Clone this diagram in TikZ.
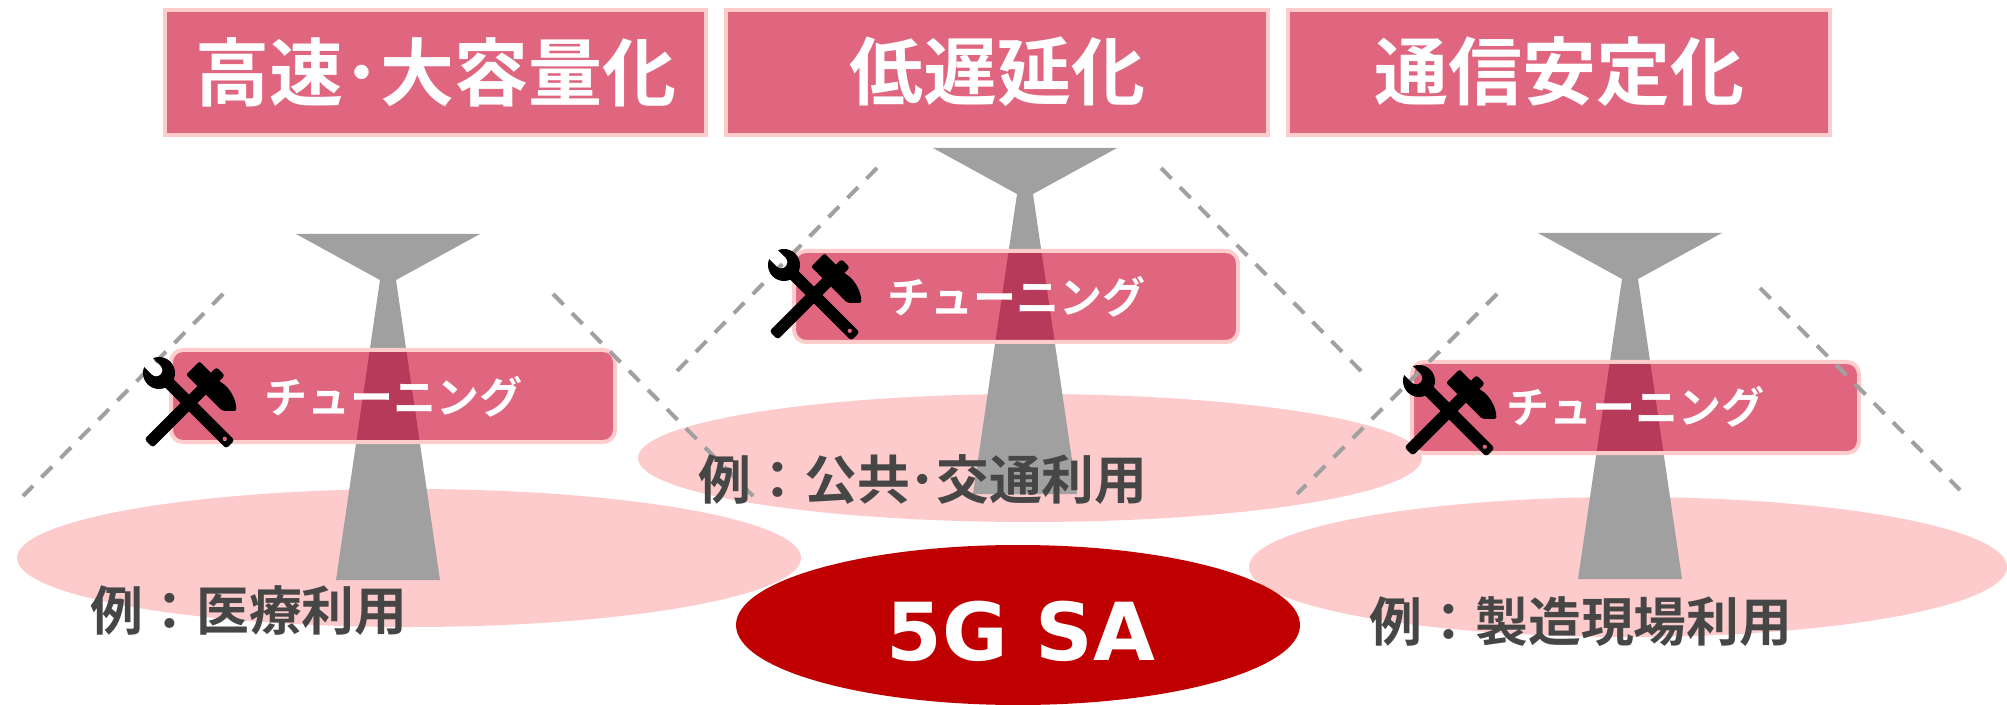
\documentclass[tikz,border=0pt]{standalone}
\usepackage{fontspec}
\newfontfamily\jpfont{Noto Sans CJK JP}[BoldFont={Noto Sans CJK JP Bold}]
\newfontfamily\latinbold{DejaVu Sans Bold}
\definecolor{boxpink}{HTML}{E06680}
\definecolor{edgepink}{HTML}{FFCCCC}
\definecolor{areapink}{HTML}{FDCBCB}
\definecolor{mastgray}{HTML}{A0A0A0}
\definecolor{mastdark}{HTML}{B83A5A}
\definecolor{corered}{HTML}{C00000}
\definecolor{labelgray}{HTML}{464646}
\definecolor{beamgray}{HTML}{A0A0A0}

% antenna mast: centre x, top edge y, neck y, foot y
\newcommand\mastpath[4]{(#1-92,#2) -- (#1+92,#2) -- (#1+8,#3) -- (#1+52,#4) -- (#1-52,#4) -- (#1-8,#3) -- cycle}

% crossed wrench and hammer, top-left corner given
\newcommand\toolicon[1]{%
  \begin{scope}[shift={#1}]
    \begin{scope}[shift={(65,27)}, rotate=45]
      \fill[black, rounded corners=1.5pt] (-84,-6) rectangle (18,6);
      \fill[black, rounded corners=1pt] (-9,-22) -- (10,-22) -- (10,6)
        .. controls (13,18) and (9,31) .. (1,39) -- (-9,29) -- cycle;
    \end{scope}
    \begin{scope}[shift={(16,16)}, rotate=-45]
      \fill[black] (157:16) arc[start angle=157, end angle=-157, radius=16]
        -- (-4,-6.2) arc[start angle=-90, end angle=90, radius=6.2] -- cycle;
      \fill[black, even odd rule, rounded corners=1.5pt] (6,-6) rectangle (101,6)
        (93,0) circle[radius=2.3];
    \end{scope}
  \end{scope}}

% tuning plate: corners and the mast behind it
\newcommand\tuneplate[8]{%
  \fill[boxpink, rounded corners=6pt] (#1,#2) rectangle (#3,#4);
  \begin{scope}
    \clip[rounded corners=6pt] (#1,#2) rectangle (#3,#4);
    \fill[mastdark] \mastpath{#5}{#6}{#7}{#8};
  \end{scope}
  \draw[edgepink, line width=2pt, rounded corners=6pt] (#1,#2) rectangle (#3,#4);}

\begin{document}
\begin{tikzpicture}[x=0.5pt, y=-0.5pt,
  headbox/.style={fill=boxpink, draw=edgepink, line width=2pt},
  headtext/.style={text=white, inner sep=0pt, font=\jpfont\bfseries\fontsize{37}{40}\selectfont},
  tunetext/.style={text=white, inner sep=0pt, font=\jpfont\bfseries\fontsize{21.5}{24}\selectfont},
  usetext/.style={text=labelgray, inner sep=0pt, font=\jpfont\bfseries\fontsize{26.4}{30}\selectfont},
  coretext/.style={text=white, inner sep=0pt, font=\latinbold\fontsize{40}{44}\selectfont},
  beam/.style={beamgray, line width=2pt, dash pattern=on 7.5pt off 6pt}]
\useasboundingbox (0,0) rectangle (2007,705);
\fill[white] (0,0) rectangle (2007,705);

% coverage areas
\fill[areapink] (409,558) ellipse[x radius=392, y radius=69];
\fill[areapink] (1030,458) ellipse[x radius=392, y radius=64];
\fill[areapink] (1628,567) ellipse[x radius=379, y radius=70];
\fill[corered] (1018,625) ellipse[x radius=282, y radius=80];

% masts
\fill[mastgray] \mastpath{388}{234}{280}{580};
\fill[mastgray] \mastpath{1025}{148}{194}{494};
\fill[mastgray] \mastpath{1630}{233}{279}{579};

% headline boxes
\draw[headbox] (165,10) rectangle (706,135);
\draw[headbox] (726,10) rectangle (1268,135);
\draw[headbox] (1288,10) rectangle (1830,135);
\node[headtext] (h1) at (435.5,72) {高速･大容量化};
\node[headtext] (h2) at (997,72) {低遅延化};
\node[headtext] (h3) at (1559,72) {通信安定化};

% tuning plates
\tuneplate{171}{350}{615}{442}{388}{234}{280}{580}
\tuneplate{794}{251}{1238}{342}{1025}{148}{194}{494}
\tuneplate{1412}{362}{1859}{453}{1630}{233}{279}{579}

% beam edges
\coordinate (a1) at (223,294);  \coordinate (a2) at (23,496);
\coordinate (a3) at (553,294);  \coordinate (a4) at (753,496);
\coordinate (b1) at (877,168);  \coordinate (b2) at (677,371);
\coordinate (b3) at (1161,168); \coordinate (b4) at (1361,371);
\coordinate (c1) at (1497,294); \coordinate (c2) at (1297,494);
\coordinate (c3) at (1760,288); \coordinate (c4) at (1960,490);
\draw[beam] (a1) -- (a2);
\draw[beam] (a3) -- (a4);
\draw[beam] (b1) -- (b2);
\draw[beam] (b3) -- (b4);
\draw[beam] (c1) -- (c2);
\draw[beam] (c3) -- (c4);

% tool icons
\toolicon{(143,357)}
\toolicon{(768,249)}
\toolicon{(1403,365)}

\node[tunetext] (t1) at (393,397) {チューニング};
\node[tunetext] (t2) at (1016,297) {チューニング};
\node[tunetext] (t3) at (1635,407) {チューニング};

\node[usetext] (u1) at (249,611) {例：医療利用};
\node[usetext] (u2) at (923,480) {例：公共･交通利用};
\node[usetext] (u3) at (1581,622) {例：製造現場利用};

\node[coretext] (core) at (1021,631) {5G SA};
\end{tikzpicture}
\end{document}
